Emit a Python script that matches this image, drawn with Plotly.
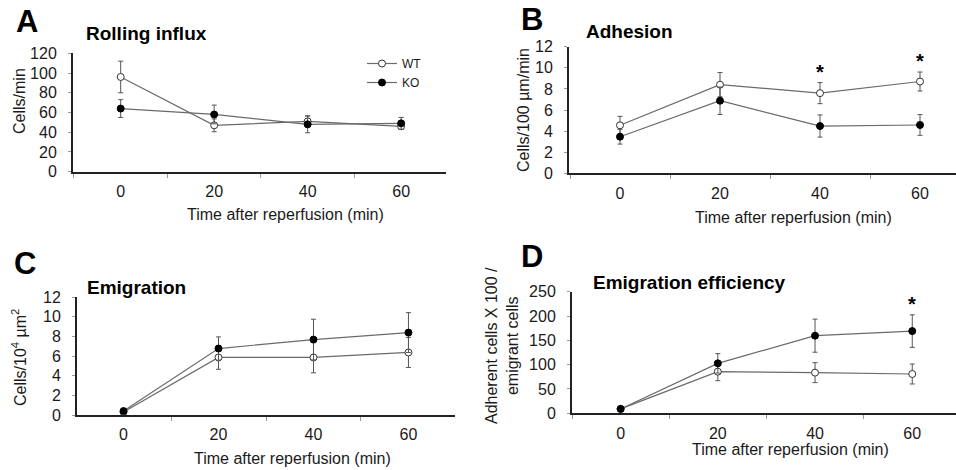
import plotly.graph_objects as go

W, H = 956, 470

times = ["0", "20", "40", "60"]

# Panel A: Rolling influx (cells/min)
a_wt = [96, 47, 51, 46]
a_wt_err = [16, 6.5, 5.5, 3]
a_ko = [64, 58, 48, 49]
a_ko_err = [9, 9.5, 8.5, 6]

# Panel B: Adhesion (cells/100 um/min)
b_wt = [4.55, 8.4, 7.6, 8.7]
b_wt_err = [0.85, 1.15, 1.0, 0.9]
b_ko = [3.47, 6.88, 4.48, 4.58]
b_ko_err = [0.7, 1.3, 1.05, 0.98]
b_sig = ["40", "60"]

# Panel C: Emigration (cells/10^4 um^2)
c_wt = [0.3, 5.85, 5.85, 6.36]
c_wt_err = [0.1, 1.2, 1.56, 1.53]
c_ko = [0.4, 6.76, 7.67, 8.38]
c_ko_err = [0.15, 1.18, 2.07, 2.03]

# Panel D: Emigration efficiency
d_wt = [9, 85.6, 83.6, 80.8]
d_wt_err = [2, 18.5, 20.5, 20.5]
d_ko = [9, 102.7, 159.6, 169]
d_ko_err = [2, 20, 34, 33.5]
d_sig = ["60"]

FONT = "Liberation Sans, Arial, sans-serif"
TXT = "#1a1a1a"
LINE = "#6a6a6a"
TICK = 16


def xd(a, b):
    return [a / W, b / W]


def yd(top, bottom):
    return [(H - bottom) / H, (H - top) / H]


fig = go.Figure()


def add_pair(ax, wt, wt_err, ko, ko_err, legend=False):
    xa = "x" if ax == 1 else f"x{ax}"
    ya = "y" if ax == 1 else f"y{ax}"
    fig.add_trace(go.Scatter(
        x=times, y=wt, xaxis=xa, yaxis=ya, name="WT", mode="lines+markers",
        line=dict(color=LINE, width=1.2),
        marker=dict(symbol="circle", size=7, color="white", line=dict(color="#333", width=1)),
        error_y=dict(type="data", array=wt_err, color="#555", thickness=1, width=2.5),
        showlegend=legend, legendrank=1,
    ))
    fig.add_trace(go.Scatter(
        x=times, y=ko, xaxis=xa, yaxis=ya, name="KO", mode="lines+markers",
        line=dict(color=LINE, width=1.2),
        marker=dict(symbol="circle", size=7, color="black", line=dict(color="black", width=1)),
        error_y=dict(type="data", array=ko_err, color="#555", thickness=1, width=2.5),
        showlegend=legend, legendrank=2,
    ))


add_pair(1, a_wt, a_wt_err, a_ko, a_ko_err, legend=True)
add_pair(2, b_wt, b_wt_err, b_ko, b_ko_err)
add_pair(3, c_wt, c_wt_err, c_ko, c_ko_err)
add_pair(4, d_wt, d_wt_err, d_ko, d_ko_err)


def xaxis(dom, rng, anchor):
    return dict(
        domain=dom, range=rng, anchor=anchor, type="category",
        categoryorder="array", categoryarray=times,
        showline=True, linecolor="#222", linewidth=2,
        ticks="outside", ticklen=4, tickcolor="#999", tickwidth=1,
        tickson="boundaries", showgrid=False, zeroline=False, automargin=False,
        tickfont=dict(family=FONT, size=TICK, color=TXT), ticklabelstandoff=4,
    )


def yaxis(dom, rng, dtick, anchor):
    return dict(
        domain=dom, range=rng, anchor=anchor, dtick=dtick, tick0=0,
        showline=True, linecolor="#222", linewidth=2,
        ticks="outside", ticklen=3, tickcolor="#999", tickwidth=1,
        showgrid=False, zeroline=False, automargin=False,
        tickfont=dict(family=FONT, size=TICK, color=TXT), ticklabelstandoff=8,
    )


fig.update_layout(
    width=W, height=H, margin=dict(l=0, r=0, t=0, b=0, autoexpand=False),
    paper_bgcolor="white", plot_bgcolor="white",
    xaxis=xaxis(xd(73, 446), [-0.51, 3.48], "y"),
    yaxis=yaxis(yd(53.3, 171.7), [0, 120], 20, "x"),
    xaxis2=xaxis(xd(569, 956), [-0.51, 3.36], "y2"),
    yaxis2=yaxis(yd(46.7, 173.3), [0, 12], 2, "x2"),
    xaxis3=xaxis(xd(77, 455), [-0.49, 3.49], "y3"),
    yaxis3=yaxis(yd(297, 415), [0, 12], 2, "x3"),
    xaxis4=xaxis(xd(572, 956), [-0.5, 3.45], "y4"),
    yaxis4=yaxis(yd(291.7, 413.3), [0, 250], 50, "x4"),
    showlegend=True,
    legend=dict(x=362 / W, y=1 - 49 / H, xanchor="left", yanchor="top",
                font=dict(family=FONT, size=12, color=TXT),
                bgcolor="rgba(0,0,0,0)", itemwidth=30, tracegroupgap=0),
)

ann = []


def paper_text(text, x, y, size, bold=False, angle=0, xanchor="center"):
    ann.append(dict(
        text=f"<b>{text}</b>" if bold else text, x=x / W, y=1 - y / H,
        xref="paper", yref="paper", showarrow=False, textangle=angle,
        xanchor=xanchor, yanchor="middle",
        font=dict(family=FONT, size=size, color="black" if bold else TXT),
    ))


# panel letters
paper_text("A", 27, 21, 31, bold=True)
paper_text("B", 532, 20, 31, bold=True)
paper_text("C", 25, 263, 31, bold=True)
paper_text("D", 532, 256, 31, bold=True)

# panel titles
paper_text("Rolling influx", 84, 33, 19, bold=True, xanchor="left")
paper_text("Adhesion", 584, 32, 19, bold=True, xanchor="left")
paper_text("Emigration", 85, 287, 19, bold=True, xanchor="left")
paper_text("Emigration efficiency", 591, 282, 19, bold=True, xanchor="left")

# x titles
xt = "Time after reperfusion (min)"
paper_text(xt, 285, 215, 16)
paper_text(xt, 793, 217, 16)
paper_text(xt, 292, 458, 16)
paper_text(xt, 790, 449, 16)

# y titles
paper_text("Cells/min", 19, 101, 16, angle=-90)
paper_text("Cells/100 \u00b5m/min", 523, 110, 16, angle=-90)
paper_text("Cells/10<sup>4</sup> \u00b5m<sup>2</sup>", 19, 358, 16, angle=-90)
paper_text("Adherent cells X 100 /<br>emigrant cells", 502, 345, 16, angle=-90)


def star(ax, cat, top):
    xa = "x" if ax == 1 else f"x{ax}"
    ya = "y" if ax == 1 else f"y{ax}"
    ann.append(dict(text="<b>*</b>", x=times.index(cat), y=top, xref=xa, yref=ya,
                    showarrow=False, yanchor="bottom", yshift=-2,
                    font=dict(family=FONT, size=20, color="black")))


for cat in b_sig:
    i = times.index(cat)
    star(2, cat, max(b_wt[i] + b_wt_err[i], b_ko[i] + b_ko_err[i]))
for cat in d_sig:
    i = times.index(cat)
    star(4, cat, max(d_wt[i] + d_wt_err[i], d_ko[i] + d_ko_err[i]))

fig.update_layout(annotations=ann)

css_js = (
    "var s=document.createElement('style');"
    "s.textContent='html,body{margin:0;padding:0;overflow:hidden;height:470px;width:956px;}';"
    "document.head.appendChild(s);"
)
fig.write_html("out.html", post_script=css_js, config={"displayModeBar": False})
